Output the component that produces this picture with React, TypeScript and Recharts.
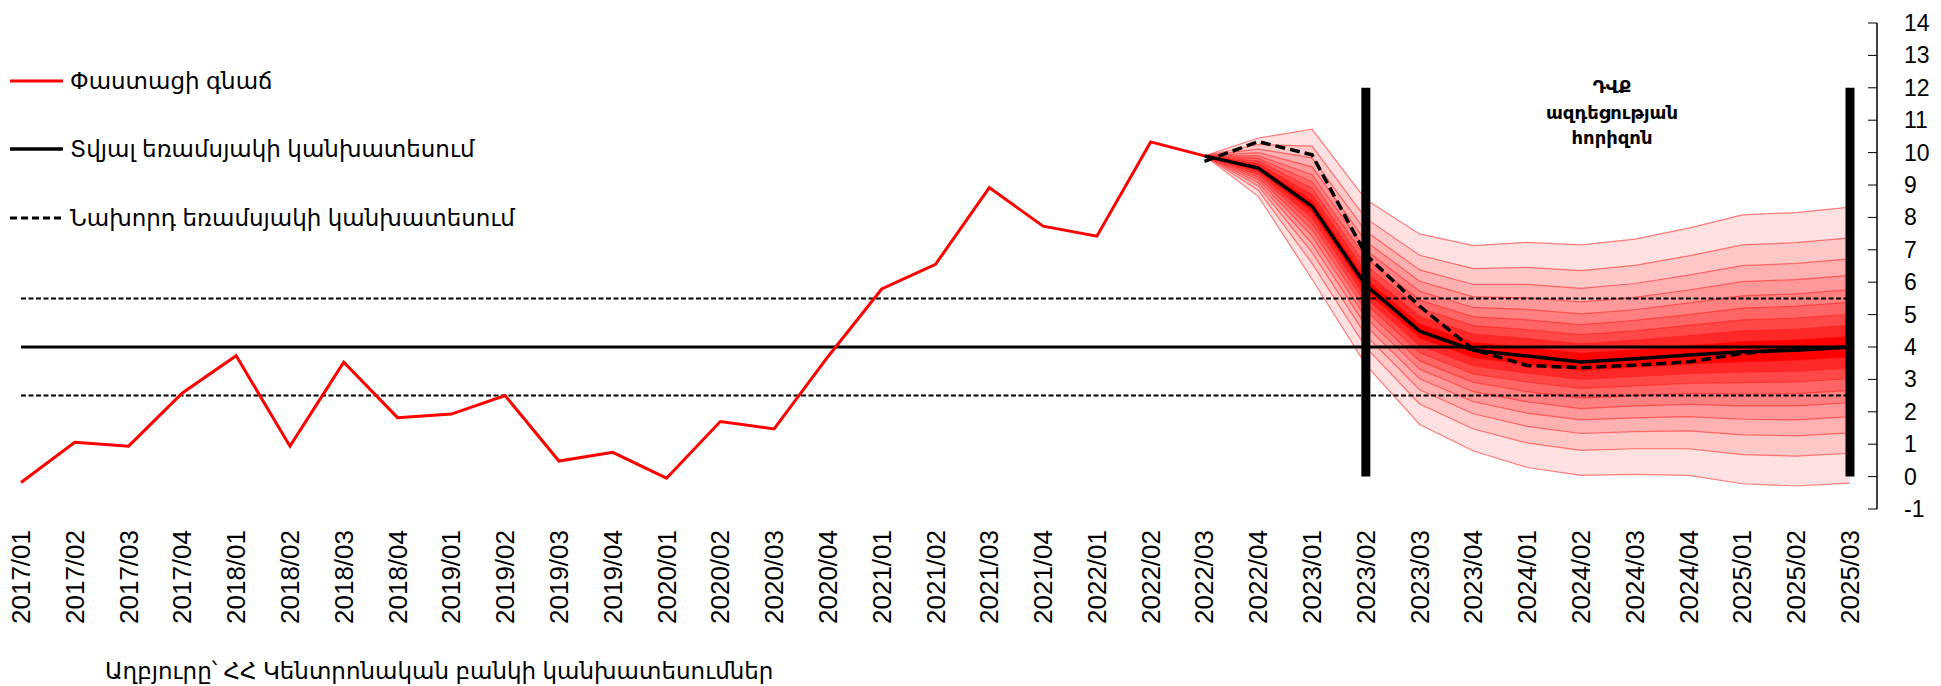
import {
  Area,
  ComposedChart,
  Line,
  ReferenceLine,
  XAxis,
  YAxis,
} from "recharts";

const quarters = [
  "2017/01", "2017/02", "2017/03", "2017/04",
  "2018/01", "2018/02", "2018/03", "2018/04",
  "2019/01", "2019/02", "2019/03", "2019/04",
  "2020/01", "2020/02", "2020/03", "2020/04",
  "2021/01", "2021/02", "2021/03", "2021/04",
  "2022/01", "2022/02", "2022/03", "2022/04",
  "2023/01", "2023/02", "2023/03", "2023/04",
  "2024/01", "2024/02", "2024/03", "2024/04",
  "2025/01", "2025/02", "2025/03",
];

// actual inflation, 2017/01 .. 2022/03
const actual = [
  -0.18, 1.06, 0.94, 2.58, 3.73, 0.94, 3.53, 1.82, 1.93, 2.5, 0.48, 0.75,
  -0.05, 1.7, 1.47, 3.7, 5.79, 6.55, 8.92, 7.73, 7.42, 10.33, 9.9,
];

// forecasts start at 2022/03
const forecastStart = 22;
const current = [9.9, 9.52, 8.34, 5.9, 4.49, 3.9, 3.72, 3.54, 3.64, 3.75, 3.85, 3.9, 4.0];
const previous = [9.73, 10.34, 9.93, 6.85, 5.26, 3.92, 3.43, 3.36, 3.44, 3.54, 3.8, 3.94, 4.0];

// fan percentiles
const p95 = [9.9, 10.45, 10.72, 8.55, 7.49, 7.13, 7.23, 7.15, 7.33, 7.67, 8.08, 8.15, 8.32];
const p90 = [9.9, 10.25, 10.2, 7.97, 6.83, 6.42, 6.46, 6.36, 6.52, 6.81, 7.15, 7.22, 7.37];
const p85 = [9.9, 10.11, 9.84, 7.57, 6.38, 5.93, 5.93, 5.81, 5.96, 6.22, 6.51, 6.58, 6.72];
const p80 = [9.9, 10.0, 9.56, 7.26, 6.03, 5.55, 5.52, 5.39, 5.53, 5.76, 6.02, 6.08, 6.21];
const p75 = [9.9, 9.9, 9.32, 6.99, 5.72, 5.22, 5.16, 5.02, 5.15, 5.36, 5.58, 5.64, 5.77];
const p70 = [9.9, 9.82, 9.1, 6.75, 5.45, 4.93, 4.84, 4.69, 4.82, 5.0, 5.2, 5.26, 5.38];
const p65 = [9.9, 9.74, 8.9, 6.52, 5.19, 4.66, 4.54, 4.38, 4.5, 4.67, 4.84, 4.89, 5.01];
const p60 = [9.9, 9.66, 8.71, 6.31, 4.95, 4.4, 4.26, 4.1, 4.21, 4.35, 4.5, 4.55, 4.67];
const p55 = [9.9, 9.59, 8.52, 6.1, 4.72, 4.15, 3.99, 3.82, 3.92, 4.05, 4.18, 4.23, 4.33];
const p45 = [9.9, 9.45, 8.17, 5.71, 4.27, 3.66, 3.46, 3.27, 3.37, 3.46, 3.54, 3.58, 3.68];
const p40 = [9.9, 9.39, 7.99, 5.52, 4.05, 3.42, 3.19, 3.0, 3.09, 3.18, 3.22, 3.25, 3.35];
const p35 = [9.9, 9.32, 7.81, 5.33, 3.82, 3.17, 2.92, 2.72, 2.8, 2.88, 2.9, 2.92, 3.02];
const p30 = [9.9, 9.24, 7.62, 5.12, 3.57, 2.91, 2.62, 2.42, 2.5, 2.57, 2.55, 2.56, 2.66];
const p25 = [9.9, 9.16, 7.42, 4.9, 3.31, 2.62, 2.31, 2.1, 2.18, 2.23, 2.18, 2.18, 2.28];
const p20 = [9.9, 9.07, 7.19, 4.65, 3.02, 2.31, 1.96, 1.75, 1.81, 1.85, 1.77, 1.75, 1.85];
const p15 = [9.9, 8.97, 6.92, 4.36, 2.68, 1.94, 1.55, 1.33, 1.39, 1.41, 1.29, 1.26, 1.35];
const p10 = [9.9, 8.84, 6.58, 3.99, 2.24, 1.47, 1.04, 0.81, 0.86, 0.86, 0.68, 0.63, 0.72];
const p5 = [9.9, 8.65, 6.09, 3.45, 1.61, 0.79, 0.28, 0.04, 0.07, 0.04, -0.22, -0.29, -0.2];

const target = 4;
const targetUpper = 5.5;
const targetLower = 2.5;
const yTicks = [-1, 0, 1, 2, 3, 4, 5, 6, 7, 8, 9, 10, 11, 12, 13, 14];

// outer -> inner
const bands = [
  { key: "b90", lo: p5, hi: p95, fill: "#ffe1e1" },
  { key: "b80", lo: p10, hi: p90, fill: "#ffc8c8" },
  { key: "b70", lo: p15, hi: p85, fill: "#ffb0b0" },
  { key: "b60", lo: p20, hi: p80, fill: "#ff9898" },
  { key: "b50", lo: p25, hi: p75, fill: "#ff8080" },
  { key: "b40", lo: p30, hi: p70, fill: "#ff6565" },
  { key: "b30", lo: p35, hi: p65, fill: "#ff4848" },
  { key: "b20", lo: p40, hi: p60, fill: "#ff2828" },
  { key: "b10", lo: p45, hi: p55, fill: "#ff0000" },
];

const data = quarters.map((q, i) => {
  const row: Record<string, unknown> = {
    q,
    actual: i < actual.length ? actual[i] : null,
  };
  const j = i - forecastStart;
  if (j >= 0) {
    row.cur = current[j];
    row.prev = previous[j];
    bands.forEach((b) => {
      row[b.key] = [b.lo[j], b.hi[j]];
    });
  }
  return row;
});

const FONT = '"Liberation Sans", "DejaVu Sans", Arial, sans-serif';

const XTick = ({ x, y, payload }: any) => (
  <text
    x={x}
    y={y}
    transform={`rotate(-90 ${x} ${y})`}
    textAnchor="end"
    dominantBaseline="central"
    fontSize={26}
    fontFamily={FONT}
    fill="#000"
  >
    {payload.value}
  </text>
);

const YTick = ({ x, y, payload }: any) => (
  <g>
    <line x1={x - 9} y1={y} x2={x} y2={y} stroke="#000" strokeWidth={1} />
    <text
      x={x + 27}
      y={y}
      textAnchor="start"
      dominantBaseline="central"
      fontSize={23}
      fontFamily={FONT}
      fill="#000"
    >
      {payload.value}
    </text>
  </g>
);

const first = quarters[0];
const last = quarters[quarters.length - 1];

export default function App() {
  return (
    <div style={{ position: "absolute", left: 0, top: 0, width: 1941, height: 686, background: "#fff" }}>
      <ComposedChart
        width={1941}
        height={686}
        data={data}
        margin={{ top: 23, right: 0, bottom: 0, left: 21 }}
      >
        <XAxis
          dataKey="q"
          scale="point"
          padding={{ left: 0, right: 27 }}
          interval={0}
          height={177}
          axisLine={false}
          tickLine={false}
          tickSize={0}
          tickMargin={21}
          tick={<XTick />}
        />
        <YAxis
          orientation="right"
          domain={[-1, 14]}
          ticks={yTicks}
          interval={0}
          width={64}
          axisLine={{ stroke: "#000", strokeWidth: 1.5 }}
          tickLine={false}
          tickSize={0}
          tickMargin={0}
          tick={<YTick />}
        />
        {bands.map((b) => (
          <Area
            key={b.key}
            dataKey={b.key}
            type="linear"
            fill={b.fill}
            fillOpacity={1}
            stroke="rgba(255,30,30,0.55)"
            strokeWidth={1.2}
            dot={false}
            activeDot={false}
            isAnimationActive={false}
          />
        ))}
        <ReferenceLine
          segment={[{ x: first, y: targetUpper }, { x: last, y: targetUpper }]}
          stroke="#000"
          strokeWidth={2}
          strokeDasharray="5 2.5"
        />
        <ReferenceLine
          segment={[{ x: first, y: targetLower }, { x: last, y: targetLower }]}
          stroke="#000"
          strokeWidth={2}
          strokeDasharray="5 2.5"
        />
        <ReferenceLine
          segment={[{ x: first, y: target }, { x: last, y: target }]}
          stroke="#000"
          strokeWidth={3}
        />
        <Line
          dataKey="actual"
          type="linear"
          stroke="#ff0000"
          strokeWidth={3}
          dot={false}
          activeDot={false}
          isAnimationActive={false}
        />
        <Line
          dataKey="cur"
          type="linear"
          stroke="#000"
          strokeWidth={3.5}
          dot={false}
          activeDot={false}
          isAnimationActive={false}
        />
        <Line
          dataKey="prev"
          type="linear"
          stroke="#000"
          strokeWidth={3.5}
          strokeDasharray="10 5"
          dot={false}
          activeDot={false}
          isAnimationActive={false}
        />
        <ReferenceLine
          segment={[{ x: "2023/02", y: 0 }, { x: "2023/02", y: 12 }]}
          stroke="#000"
          strokeWidth={9}
        />
        <ReferenceLine
          segment={[{ x: last, y: 0 }, { x: last, y: 12 }]}
          stroke="#000"
          strokeWidth={9}
        />
      </ComposedChart>

      <svg
        width={1941}
        height={686}
        style={{ position: "absolute", left: 0, top: 0, pointerEvents: "none" }}
        fontFamily={FONT}
      >
        <line x1={10} y1={81} x2={63} y2={81} stroke="#ff0000" strokeWidth={3} />
        <text x={70} y={81} fontSize={23} dominantBaseline="central">Փաստացի գնաճ</text>
        <line x1={10} y1={149} x2={63} y2={149} stroke="#000" strokeWidth={3.5} />
        <text x={70} y={149} fontSize={23} dominantBaseline="central">Տվյալ եռամսյակի կանխատեսում</text>
        <line x1={10} y1={218} x2={63} y2={218} stroke="#000" strokeWidth={3} strokeDasharray="7 4" />
        <text x={70} y={218} fontSize={23} dominantBaseline="central">Նախորդ եռամսյակի կանխատեսում</text>

        <text x={1612} fontSize={18} fontWeight="bold" textAnchor="middle" dominantBaseline="central">
          <tspan x={1612} y={87}>ԴՎՔ</tspan>
          <tspan x={1612} y={113}>ազդեցության</tspan>
          <tspan x={1612} y={138}>հորիզոն</tspan>
        </text>

        <text x={105} y={671} fontSize={23} dominantBaseline="central">
          Աղբյուրը՝ ՀՀ Կենտրոնական բանկի կանխատեսումներ
        </text>
      </svg>
    </div>
  );
}
